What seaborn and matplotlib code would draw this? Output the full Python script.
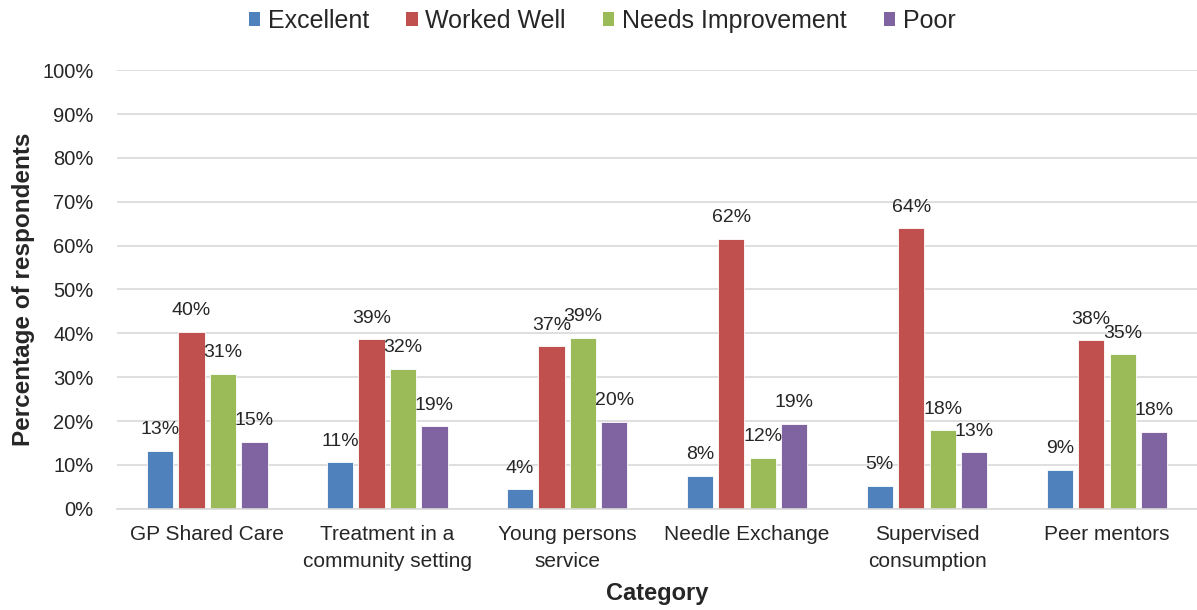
import matplotlib
matplotlib.use("Agg")
import matplotlib.pyplot as plt
from matplotlib.patches import Patch
from matplotlib.ticker import FuncFormatter, MultipleLocator
import pandas as pd
import seaborn as sns

categories = [
    "GP Shared Care",
    "Treatment in a\ncommunity setting",
    "Young persons\nservice",
    "Needle Exchange",
    "Supervised\nconsumption",
    "Peer mentors",
]
series = ["Excellent", "Worked Well", "Needs Improvement", "Poor"]

excellent = [13.2, 10.6, 4.5, 7.5, 5.2, 8.9]
worked_well = [40.3, 38.6, 37.0, 61.6, 64.0, 38.4]
needs_improvement = [30.8, 31.9, 39.0, 11.6, 17.9, 35.2]
poor = [15.3, 18.8, 19.8, 19.4, 12.9, 17.6]

colors = ["#4F81BD", "#C0504D", "#9BBB59", "#8064A2"]

rows = []
for name, vals in zip(series, [excellent, worked_well, needs_improvement, poor]):
    for cat, v in zip(categories, vals):
        rows.append({"Category": cat, "Rating": name, "Percent": v})
df = pd.DataFrame(rows)

sns.set_theme(style="white")
plt.rcParams["font.family"] = ["Liberation Sans", "DejaVu Sans"]
text_color = "#262626"

fig = plt.figure(figsize=(11.97, 6.10), dpi=100)
ax = fig.add_axes([0.098, 0.166, 0.902, 0.719])

sns.barplot(
    data=df, x="Category", y="Percent", hue="Rating",
    order=categories, hue_order=series, palette=colors,
    width=0.7, gap=0.17, saturation=1, legend=False, ax=ax,
    edgecolor="white", linewidth=0.6,
)

# value labels above each bar
for container in ax.containers:
    for bar in container:
        h = bar.get_height()
        ax.annotate(f"{h:.0f}%", (bar.get_x() + bar.get_width() / 2, h),
                    xytext=(0, 9), textcoords="offset points",
                    ha="center", va="bottom", fontsize=14, color=text_color)

ax.set_ylim(0, 100)
ax.set_xlim(-0.5, len(categories) - 0.5)
ax.yaxis.set_major_locator(MultipleLocator(10))
ax.yaxis.set_major_formatter(FuncFormatter(lambda v, _: f"{v:.0f}%"))
ax.grid(axis="y", color="#D9D9D9", linewidth=1.2)
ax.set_axisbelow(True)
for side in ["left", "right", "top"]:
    ax.spines[side].set_visible(False)
ax.spines["bottom"].set_color("#D9D9D9")
ax.spines["bottom"].set_linewidth(1.2)
ax.tick_params(axis="y", length=0, labelsize=14.5, colors=text_color, pad=17)
ax.tick_params(axis="x", length=0, labelsize=15, colors=text_color, pad=12)
for lbl in ax.get_xticklabels():
    lbl.set_linespacing(1.5)

ax.set_xlabel("Category", fontsize=17, fontweight="bold", color=text_color, labelpad=8)
ax.set_ylabel("Percentage of respondents", fontsize=17.5, fontweight="bold",
              color=text_color, labelpad=5)

handles = [Patch(facecolor=c, edgecolor="none") for c in colors]
fig.legend(handles, series, loc="center", bbox_to_anchor=(0.503, 0.966), ncol=4,
           frameon=False, fontsize=18, handlelength=0.45, handleheight=0.45,
           handletextpad=0.3, columnspacing=1.5, labelcolor=text_color)

fig.savefig("out.png", dpi=100)
